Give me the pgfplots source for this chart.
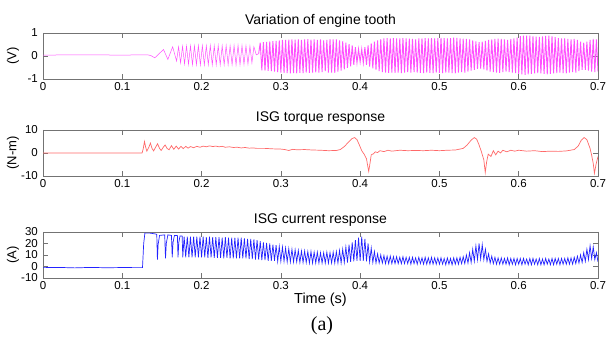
\documentclass[border=0pt]{standalone}
\usepackage{pgfplots}
\pgfplotsset{compat=1.18}
\usepackage{fontspec}
\setmainfont{Liberation Sans}
\newfontfamily\timesfont{Liberation Serif}
\definecolor{mag}{RGB}{255,80,255}
\definecolor{tq}{RGB}{255,105,105}
\definecolor{cur}{RGB}{35,35,255}
\pgfplotsset{
  mlab/.style={
    scale only axis, width=555pt, height=46pt,
    xmin=0, xmax=0.7,
    xtick={0,0.1,0.2,0.3,0.4,0.5,0.6,0.7},
    xticklabels={0,0.1,0.2,0.3,0.4,0.5,0.6,0.7},
    tick align=inside, tick pos=both,
    major tick length=5pt,
    axis line style={black!55},
    tick style={black!55, line width=0.5pt},
    ticklabel style={font=\fontsize{11.5}{12}\selectfont, inner sep=0pt},
    xticklabel style={yshift=-3pt},
    yticklabel style={xshift=-5pt},
    title style={font=\fontsize{14}{15}\selectfont, at={(axis description cs:0.5,1)}, anchor=base, yshift=2.5pt},
    ylabel style={font=\fontsize{13}{13}\selectfont, at={(axis description cs:-0.054,0.5)}, anchor=center},
  }
}
\begin{document}
\begin{tikzpicture}
\path[use as bounding box] (0,0) rectangle (608pt,342pt);
% ---------------- engine tooth
\begin{axis}[mlab, at={(43pt,263pt)}, anchor=south west, ymin=-1, ymax=1,
  ytick={-1,0,1}, yticklabels={-1,0,1}, title={Variation of engine tooth}, ylabel={(V)}]
\addplot[mag, line width=0.5pt] coordinates {
(0,0.04) (0.05,0.05) (0.1,0.04) (0.132,0.05) (0.136,0.02) (0.141,-0.08) (0.147,0.12) (0.152,0.28) (0.1575,-0.15) (0.1635,0.40) (0.1685,-0.22)
(0.1710,0.40) (0.1735,-0.30) (0.1760,0.42) (0.1785,-0.34) (0.1810,0.43) (0.1835,-0.36) (0.1860,0.44) (0.1885,-0.38)
(0.1910,0.44) (0.1935,-0.38) (0.1960,0.45) (0.1985,-0.39) (0.2010,0.45) (0.2035,-0.39) (0.2060,0.44) (0.2085,-0.38)
(0.2110,0.45) (0.2135,-0.39) (0.2160,0.44) (0.2185,-0.38) (0.2210,0.45) (0.2235,-0.39) (0.2260,0.44) (0.2285,-0.38)
(0.2310,0.45) (0.2335,-0.38) (0.2360,0.44) (0.2385,-0.38) (0.2410,0.45) (0.2435,-0.39) (0.2460,0.46) (0.2485,-0.38)
(0.2510,0.45) (0.2535,-0.36) (0.2560,0.44) (0.2585,-0.35) (0.2610,0.43) (0.2635,-0.30) (0.2660,0.40) (0.2690,0.05) (0.2720,0.10)
};
\addplot[mag, line width=0.9pt] coordinates {
(0.2720,0.10)
(0.274,0.58) (0.276,-0.62) (0.278,0.60) (0.280,-0.63) (0.282,0.61) (0.284,-0.65) (0.286,0.63) (0.288,-0.66)
(0.290,0.65) (0.292,-0.68) (0.294,0.66) (0.296,-0.70) (0.298,0.68) (0.300,-0.72) (0.302,0.70) (0.304,-0.73)
(0.306,0.70) (0.308,-0.74) (0.310,0.71) (0.312,-0.75) (0.314,0.72) (0.316,-0.74) (0.318,0.71) (0.320,-0.75)
(0.322,0.72) (0.324,-0.73) (0.326,0.70) (0.328,-0.74) (0.330,0.72) (0.332,-0.72) (0.334,0.73) (0.336,-0.73)
(0.338,0.71) (0.340,-0.72) (0.342,0.72) (0.344,-0.71) (0.346,0.70) (0.348,-0.72) (0.350,0.72) (0.352,-0.70)
(0.354,0.68) (0.356,-0.66) (0.358,0.70) (0.360,-0.72) (0.362,0.73) (0.364,-0.72) (0.366,0.72) (0.368,-0.73)
(0.370,0.72) (0.372,-0.68) (0.374,0.68) (0.376,-0.64) (0.378,0.64) (0.380,-0.58) (0.382,0.58) (0.384,-0.52)
(0.386,0.52) (0.388,-0.45) (0.390,0.46) (0.392,-0.38) (0.394,0.38) (0.396,-0.30) (0.398,0.30) (0.400,-0.26)
(0.402,0.30) (0.404,-0.30) (0.406,0.38) (0.408,-0.38) (0.410,0.46) (0.412,-0.46) (0.414,0.55) (0.416,-0.54)
(0.418,0.62) (0.420,-0.60) (0.422,0.68) (0.424,-0.66) (0.426,0.73) (0.428,-0.70) (0.430,0.76) (0.432,-0.72)
(0.434,0.78) (0.436,-0.73) (0.438,0.77) (0.440,-0.72) (0.442,0.78) (0.444,-0.73) (0.446,0.76) (0.448,-0.72)
(0.450,0.77) (0.452,-0.74) (0.454,0.78) (0.456,-0.72) (0.458,0.76) (0.460,-0.70) (0.462,0.75) (0.464,-0.72)
(0.466,0.74) (0.468,-0.70) (0.470,0.72) (0.472,-0.72) (0.474,0.76) (0.476,-0.73) (0.478,0.77) (0.480,-0.74)
(0.482,0.78) (0.484,-0.72) (0.486,0.77) (0.488,-0.73) (0.490,0.78) (0.492,-0.74) (0.494,0.77) (0.496,-0.72)
(0.498,0.78) (0.500,-0.73) (0.502,0.79) (0.504,-0.74) (0.506,0.78) (0.508,-0.72) (0.510,0.77) (0.512,-0.72)
(0.514,0.78) (0.516,-0.74) (0.518,0.80) (0.520,-0.75) (0.522,0.79) (0.524,-0.72) (0.526,0.76) (0.528,-0.70)
(0.530,0.75) (0.532,-0.72) (0.534,0.74) (0.536,-0.68) (0.538,0.72) (0.540,-0.64) (0.542,0.68) (0.544,-0.60)
(0.546,0.63) (0.548,-0.56) (0.550,0.60) (0.552,-0.55) (0.554,0.62) (0.556,-0.58) (0.558,0.66) (0.560,-0.64)
(0.562,0.70) (0.564,-0.68) (0.566,0.72) (0.568,-0.70) (0.570,0.74) (0.572,-0.72) (0.574,0.75) (0.576,-0.73)
(0.578,0.74) (0.580,-0.70) (0.582,0.72) (0.584,-0.68) (0.586,0.70) (0.588,-0.70) (0.590,0.74) (0.592,-0.72)
(0.594,0.76) (0.596,-0.74) (0.598,0.80) (0.600,-0.78) (0.602,0.86) (0.604,-0.80) (0.606,0.88) (0.608,-0.82)
(0.610,0.89) (0.612,-0.80) (0.614,0.88) (0.616,-0.78) (0.618,0.86) (0.620,-0.76) (0.622,0.84) (0.624,-0.74)
(0.626,0.83) (0.628,-0.76) (0.630,0.85) (0.632,-0.78) (0.634,0.87) (0.636,-0.80) (0.638,0.88) (0.640,-0.78)
(0.642,0.86) (0.644,-0.76) (0.646,0.82) (0.648,-0.74) (0.650,0.78) (0.652,-0.72) (0.654,0.76) (0.656,-0.74)
(0.658,0.76) (0.660,-0.75) (0.662,0.74) (0.664,-0.72) (0.666,0.72) (0.668,-0.70) (0.670,0.74) (0.672,-0.72)
(0.674,0.70) (0.676,-0.66) (0.678,0.62) (0.680,-0.60) (0.682,0.58) (0.684,-0.60) (0.686,0.62) (0.688,-0.64)
(0.690,0.70) (0.692,-0.68) (0.694,0.74) (0.696,-0.70) (0.698,0.72) (0.700,-0.68)
};
\end{axis}
% ---------------- torque
\begin{axis}[mlab, at={(43pt,166pt)}, anchor=south west, ymin=-10, ymax=10,
  ytick={-10,0,10}, yticklabels={-10,0,10}, title={ISG torque response}, ylabel={(N-m)}]
\addplot[tq, line width=0.7pt] coordinates {
(0.000,0) (0.125,0) (0.1265,2) (0.1280,5) (0.1295,2.5) (0.1310,0.8) (0.1335,2.5) (0.1355,4.3) (0.1375,2) (0.1395,0.9)
(0.1420,2.5) (0.1445,4.0) (0.1470,2) (0.1490,1.1) (0.1515,2.4) (0.1540,3.5) (0.1565,2) (0.1590,1.4) (0.1620,3.2)
(0.1650,1.6) (0.1680,3.0) (0.1710,1.7) (0.1740,2.9) (0.1770,1.9) (0.1800,2.9) (0.1830,2.1) (0.1860,2.8) (0.1900,2.3)
(0.1940,2.9) (0.1980,2.5) (0.2020,3.0) (0.2060,2.7) (0.2100,3.1) (0.2140,2.8) (0.2180,3.0) (0.2220,2.7) (0.2260,2.9)
(0.2300,2.5) (0.2350,2.7) (0.2400,2.4) (0.2450,2.5) (0.2500,2.2) (0.2550,2.4) (0.2600,2.1) (0.2650,2.2) (0.2700,2.0)
(0.2800,2.0) (0.2900,1.8) (0.3000,1.7) (0.3050,1.5) (0.3100,1.1) (0.3150,1.6) (0.3200,1.4) (0.3300,1.5) (0.3400,1.3)
(0.3500,1.2) (0.3600,1.0) (0.3700,1.1) (0.3750,1.5) (0.3800,2.8) (0.3850,4.6) (0.3900,6.3) (0.3930,6.7) (0.3960,5.8)
(0.3990,3.5) (0.4020,1.0) (0.4050,-0.5) (0.4080,-2.5) (0.4095,-5.5) (0.4108,-8.0) (0.4122,-5) (0.4140,-0.8) (0.4170,-0.3)
(0.4190,0.5) (0.4220,0.2) (0.4250,1.0) (0.4300,0.6) (0.4350,1.2) (0.4400,0.8) (0.4500,1.2) (0.4600,1.0) (0.4700,1.1)
(0.4800,1.0) (0.4900,1.2) (0.5000,1.0) (0.5100,1.2) (0.5200,1.3) (0.5300,2.0) (0.5350,3.5) (0.5400,5.6) (0.5440,6.7)
(0.5470,6.0) (0.5500,3.5) (0.5530,0.5) (0.5560,-3) (0.5578,-8.5) (0.5595,-4) (0.5615,-0.5) (0.5650,-1.5) (0.5680,1.0)
(0.5710,-0.8) (0.5740,0.8) (0.5770,0) (0.5800,1.2) (0.5850,0.5) (0.5900,1.2) (0.5950,0.8) (0.6000,1.2) (0.6100,0.8)
(0.6200,1.0) (0.6300,0.6) (0.6400,0.8) (0.6500,0.7) (0.6600,0.9) (0.6700,1.5) (0.6750,3.0) (0.6790,5.6) (0.6825,6.7)
(0.6860,5.8) (0.6900,2.0) (0.6920,-1) (0.6940,-4.5) (0.6955,-8.8) (0.6975,-5) (0.7000,-1.5)
};
\end{axis}
% ---------------- current
\begin{axis}[mlab, at={(43pt,64pt)}, anchor=south west, ymin=-10, ymax=30,
  ytick={-10,0,10,20,30}, yticklabels={-10,0,10,20,30}, title={ISG current response}, ylabel={(A)},
  xlabel={Time (s)}, xlabel style={font=\fontsize{14.5}{15}\selectfont, at={(axis description cs:0.5,-0.478)}, anchor=center}]
\addplot[cur, line width=0.7pt] coordinates {
(0.000,-1) (0.020,-0.8) (0.040,-1.2) (0.060,-0.8) (0.080,-1.1) (0.100,-0.9) (0.120,-1) (0.1255,-1) (0.1270,20) (0.1285,29)
(0.1350,29) (0.1400,28.5) (0.1435,28) (0.1443,6) (0.1452,19) (0.1470,27) (0.1535,27.5) (0.1545,7) (0.1555,20) (0.1575,27.5)
(0.1620,27) (0.1630,8) (0.1640,21) (0.1658,27) (0.1695,27) (0.1703,8) (0.1713,21) (0.1728,26.5) (0.1755,26.5) (0.1763,8)
(0.178,26) (0.180,8) (0.182,26) (0.184,8) (0.186,26) (0.188,8) (0.190,26) (0.192,8) (0.194,26) (0.196,8) (0.198,26) (0.200,8)
(0.202,26) (0.204,8) (0.206,25.5) (0.208,7.5) (0.210,26) (0.212,8) (0.214,25.5) (0.216,7.5) (0.218,25.5) (0.220,7.5)
(0.222,25.5) (0.224,7.5) (0.226,25) (0.228,7) (0.230,25.5) (0.232,7.5) (0.234,25) (0.236,7) (0.238,25) (0.240,7)
(0.242,25) (0.244,7) (0.246,25) (0.248,7) (0.250,25) (0.252,7) (0.254,24.5) (0.256,7) (0.258,24) (0.260,6.5)
(0.262,24) (0.264,6.5) (0.266,23.5) (0.268,6) (0.270,23) (0.272,6) (0.274,22) (0.276,5.5) (0.278,21) (0.280,5.5)
(0.282,20.5) (0.284,5) (0.286,20) (0.288,5) (0.290,19) (0.292,5) (0.294,18.5) (0.296,4.5) (0.298,17.5) (0.300,4.5)
(0.302,17) (0.304,4.5) (0.306,16) (0.308,4) (0.310,15.5) (0.312,4) (0.314,15) (0.316,4) (0.318,14.5) (0.320,4)
(0.322,14) (0.324,3.5) (0.326,13.5) (0.328,3.5) (0.330,13.5) (0.332,3.5) (0.334,13) (0.336,3) (0.338,13) (0.340,3)
(0.342,12.5) (0.344,3) (0.346,12.5) (0.348,3) (0.350,12) (0.352,3) (0.354,12) (0.356,3) (0.358,12.5) (0.360,3)
(0.362,12) (0.364,3) (0.366,12.5) (0.368,3) (0.370,13) (0.372,3) (0.374,14) (0.376,3) (0.378,15) (0.380,3.5)
(0.382,17) (0.384,3.5) (0.386,19) (0.388,4) (0.390,21) (0.392,4.5) (0.394,23) (0.396,5) (0.398,25) (0.400,5)
(0.402,26) (0.404,5) (0.406,24) (0.408,4.5) (0.410,20) (0.412,4) (0.414,16) (0.416,3.5) (0.418,13) (0.420,3)
(0.422,11) (0.424,3) (0.426,10) (0.428,3) (0.430,9.5) (0.432,2.5) (0.434,9) (0.436,2.5) (0.438,9) (0.440,2.5)
(0.442,8.5) (0.444,2.5) (0.446,8.5) (0.448,2.5) (0.450,8) (0.452,2.5) (0.454,8.5) (0.456,2.5) (0.458,8) (0.460,2.5)
(0.462,8) (0.464,2) (0.466,8) (0.468,2.5) (0.470,7.5) (0.472,2) (0.474,8) (0.476,2.5) (0.478,7.5) (0.480,2)
(0.482,8) (0.484,2) (0.486,7.5) (0.488,2) (0.490,8) (0.492,2) (0.494,7.5) (0.496,2) (0.498,7.5) (0.500,2)
(0.502,7.5) (0.504,2) (0.506,7) (0.508,1.5) (0.510,7.5) (0.512,2) (0.514,7) (0.516,1.5) (0.518,7.5) (0.520,2)
(0.522,7.5) (0.524,2) (0.526,8) (0.528,2.5) (0.530,8.5) (0.532,2.5) (0.534,10) (0.536,3) (0.538,12) (0.540,3.5)
(0.542,15) (0.544,4.5) (0.546,18) (0.548,6) (0.550,20) (0.552,6.5) (0.554,19) (0.556,6) (0.558,15) (0.560,4.5)
(0.562,11) (0.564,3) (0.566,9) (0.568,2.5) (0.570,8) (0.572,2) (0.574,7.5) (0.576,2) (0.578,7.5) (0.580,2)
(0.582,7) (0.584,2) (0.586,7.5) (0.588,1.5) (0.590,7) (0.592,2) (0.594,7) (0.596,1.5) (0.598,7) (0.600,2)
(0.602,7) (0.604,1.5) (0.606,7) (0.608,2) (0.610,6.5) (0.612,1.5) (0.614,7) (0.616,1.5) (0.618,7) (0.620,2)
(0.622,6.5) (0.624,1.5) (0.626,7) (0.628,1.5) (0.630,6.5) (0.632,1.5) (0.634,7) (0.636,2) (0.638,6.5) (0.640,1.5)
(0.642,7) (0.644,1.5) (0.646,7) (0.648,2) (0.650,7) (0.652,1.5) (0.654,7) (0.656,2) (0.658,7) (0.660,2)
(0.662,7.5) (0.664,2) (0.666,7.5) (0.668,2) (0.670,8) (0.672,2.5) (0.674,9) (0.676,3) (0.678,10) (0.680,3.5)
(0.682,12) (0.684,4.5) (0.686,15) (0.688,6) (0.690,18) (0.692,7) (0.694,17) (0.696,6) (0.698,12) (0.700,4)
};
\end{axis}
\node[font=\timesfont\fontsize{20}{22}\selectfont] at (322pt,16pt) {(a)};
\end{tikzpicture}
\end{document}
